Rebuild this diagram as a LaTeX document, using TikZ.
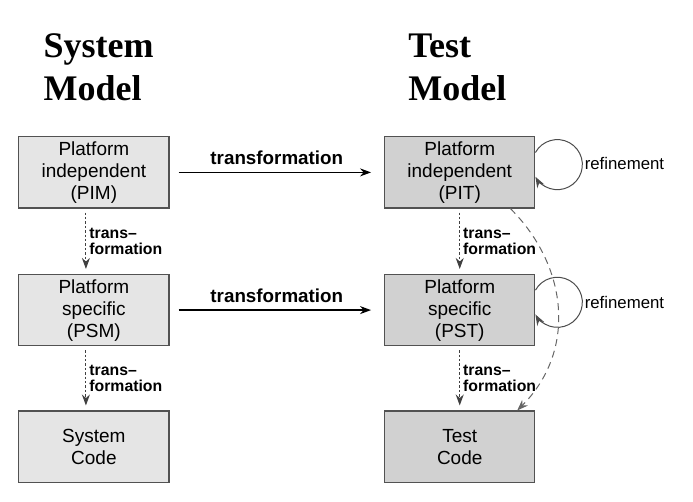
\documentclass[tikz,border=0pt]{standalone}
\usepackage{fontspec}
\setmainfont{Liberation Serif}
\setsansfont{Liberation Sans}
\usetikzlibrary{arrows.meta,positioning,calc}

\begin{document}
\begin{tikzpicture}[
  >={Stealth[length=5.5pt,width=4pt]},
  every node/.style={font=\sffamily\fontsize{9.5}{11}\selectfont},
  coltitle/.style={font=\rmfamily\bfseries\fontsize{18}{21.5}\selectfont,
                   align=left, inner sep=0pt},
  model/.style={draw=black!68, line width=0.6pt, minimum width=2.64cm,
                minimum height=1.25cm, align=center, inner sep=1pt},
  sysbox/.style={model, fill=black!10},
  testbox/.style={model, fill=black!18},
  xform/.style={->, line width=0.6pt, shorten <=4.5pt, shorten >=6.5pt},
  xlab/.style={font=\sffamily\bfseries\fontsize{9.4}{11}\selectfont},
  downarrow/.style={->, black!75, line width=0.5pt, dash pattern=on 1.2pt off 1pt,
                    shorten <=2pt, shorten >=2.5pt},
  smalllab/.style={font=\sffamily\bfseries\fontsize{7.9}{7.9}\selectfont, text=black,
                   align=left, inner sep=1.5pt},
  refloop/.style={->, black!70, line width=0.5pt},
  reflab/.style={font=\sffamily\fontsize{8.4}{10}\selectfont, inner sep=0pt, anchor=west},
  shortcut/.style={->, black!60, line width=0.5pt, dash pattern=on 3.5pt off 2.5pt}
]
  \useasboundingbox (0,0) rectangle (12.18,8.82);

  % column titles
  \node[coltitle, anchor=base west] (systitle) at (0.76,7.06) {System\\Model};
  \node[coltitle, anchor=base west] (testtitle) at (7.17,7.06) {Test\\Model};

  % system side
  \node[sysbox] (pim) at (1.65,5.79) {Platform\\independent\\(PIM)};
  \node[sysbox] (psm) at (1.65,3.37) {Platform\\specific\\(PSM)};
  \node[sysbox] (scode) at (1.65,0.97) {System\\Code};

  % test side
  \node[testbox] (pit) at (8.08,5.79) {Platform\\independent\\(PIT)};
  \node[testbox] (pst) at (8.08,3.37) {Platform\\specific\\(PST)};
  \node[testbox] (tcode) at (8.08,0.97) {Test\\Code};

  % model to model
  \draw[xform] (pim) -- (pit) node[xlab, midway, above] {transformation};
  \draw[xform] (psm) -- (pst) node[xlab, midway, above] {transformation};

  % down the columns
  \draw[downarrow] ([xshift=-0.14cm]pim.south) -- ([xshift=-0.14cm]psm.north)
        node[smalllab, midway, right] {trans–\\formation};
  \draw[downarrow] ([xshift=-0.14cm]psm.south) -- ([xshift=-0.14cm]scode.north)
        node[smalllab, midway, right] {trans–\\formation};
  \draw[downarrow] (pit.south) -- (pst.north)
        node[smalllab, midway, right] {trans–\\formation};
  \draw[downarrow] (pst.south) -- (tcode.north)
        node[smalllab, midway, right] {trans–\\formation};

  % refinement loops
  \draw[refloop] ([yshift=0.35cm]pit.east) arc[start angle=151, end angle=-151, radius=0.44cm];
  \node[reflab] (ref1) at ([xshift=0.86cm,yshift=0.15cm]pit.east) {refinement};
  \draw[refloop] ([yshift=0.35cm]pst.east) arc[start angle=151, end angle=-151, radius=0.44cm];
  \node[reflab] (ref2) at ([xshift=0.86cm,yshift=0.13cm]pst.east) {refinement};

  % direct path to test code
  \draw[shortcut] ([xshift=-0.44cm]pit.south east) to[out=-45, in=45, looseness=1.05]
        ([xshift=-0.32cm]tcode.north east);
\end{tikzpicture}
\end{document}
